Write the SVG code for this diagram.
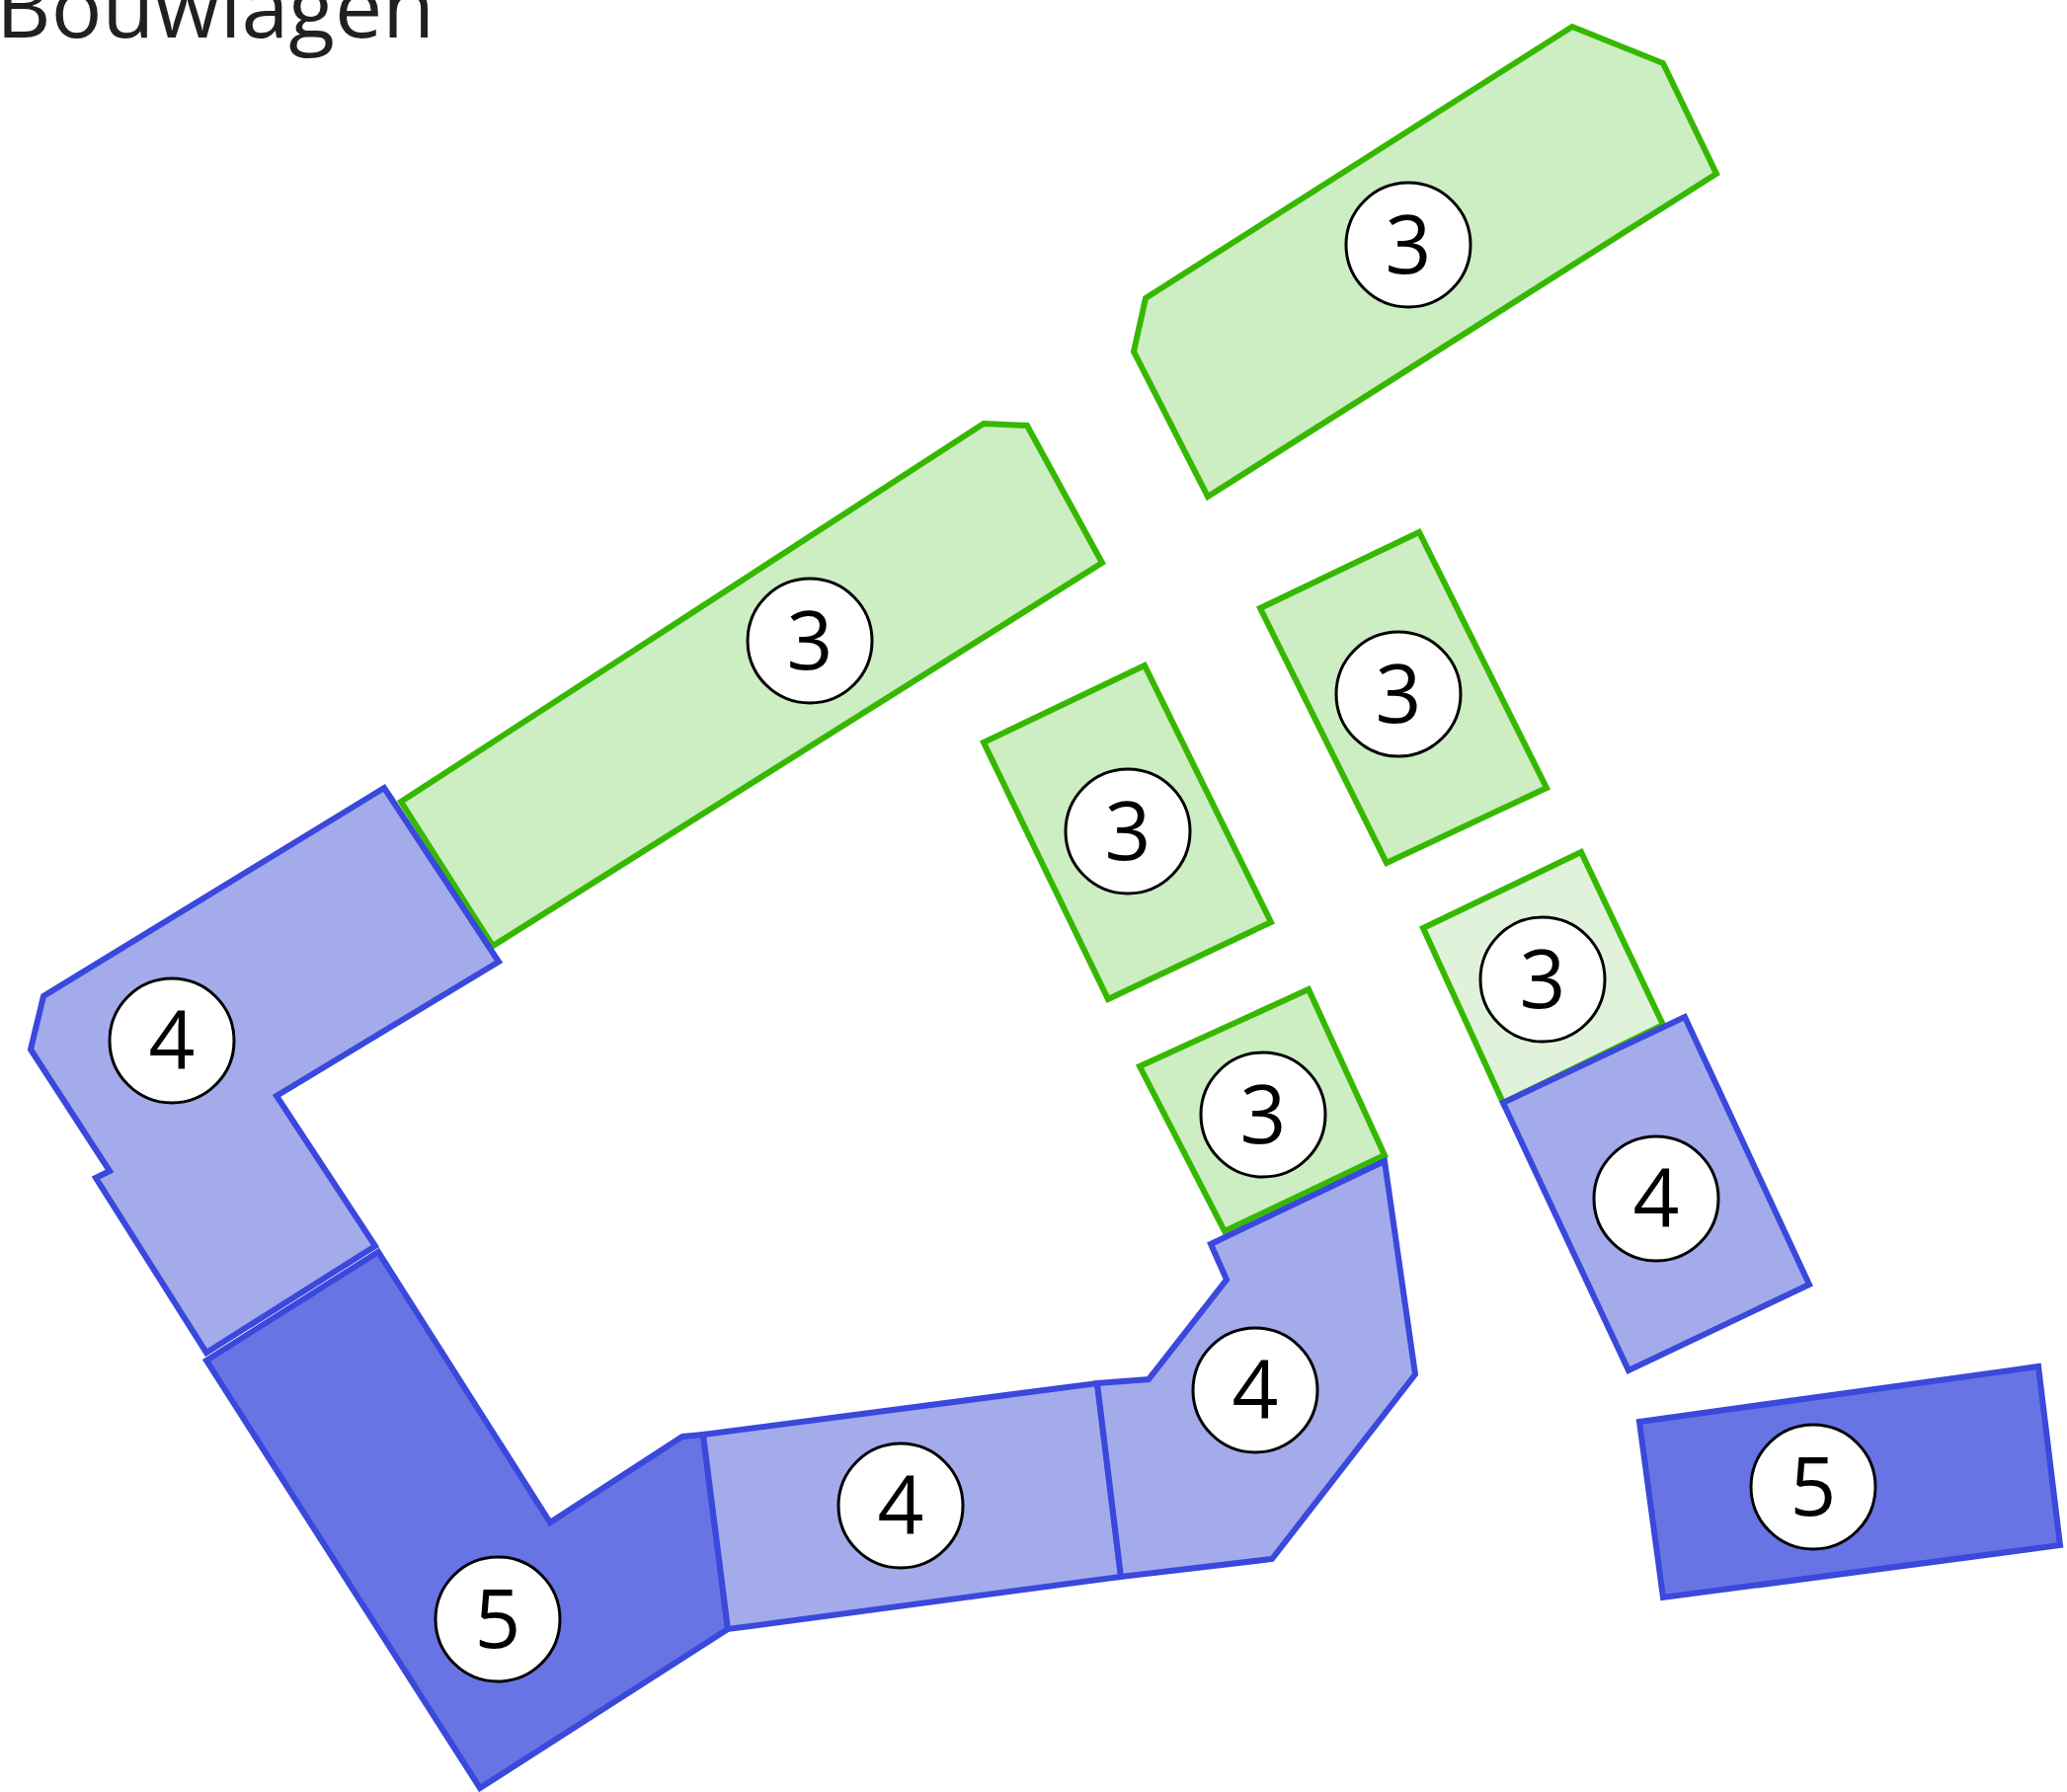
<svg xmlns="http://www.w3.org/2000/svg" width="2093" height="1815" viewBox="0 0 2093 1815">
<style>
.g{fill:#cdedc3;stroke:#37b800;stroke-width:6}
.gl{fill:#e0f3da;stroke:#37b800;stroke-width:6}
.b{fill:#a3abeb;stroke:#3a48dc;stroke-width:6}
.d{fill:#6874e3;stroke:#3a48dc;stroke-width:6}
.c{fill:#ffffff;stroke:#000000;stroke-width:3}
.t{font-family:"Open Sans","Liberation Sans",sans-serif;font-size:82px;fill:#000000;text-anchor:middle}
.title{font-family:"Open Sans","Liberation Sans",sans-serif;font-size:86px;fill:#231f20}
</style>
<rect width="2093" height="1815" fill="#ffffff"/>
<text class="title" x="440" y="38" text-anchor="end">Bouwlagen</text>

<g id="n3-top">
<polygon class="g" points="1160,302 1592,27 1684,64 1738,176 1223,503 1148,356"/>
<circle class="c" cx="1426" cy="248" r="63"/>
<text class="t" x="1426" y="277">3</text>
</g>

<g id="n3-long">
<polygon class="g" points="406,812 996,429 1040,431 1116,570 499,958"/>
<circle class="c" cx="820" cy="649" r="63"/>
<text class="t" x="820" y="678">3</text>
</g>

<g id="n4-left">
<polygon class="b" points="389,798 505,974 280,1110 380,1262 209,1370 97,1193 111,1186 31,1063 44,1009"/>
<circle class="c" cx="174" cy="1054" r="63"/>
<text class="t" x="174" y="1083">4</text>
</g>

<g id="n5-left">
<polygon class="d" points="209,1378 383,1268 557,1542 691,1455 712,1453 737,1650 486,1811"/>
<circle class="c" cx="504" cy="1640" r="63"/>
<text class="t" x="504" y="1669">5</text>
</g>

<g id="n4-mid">
<polygon class="b" points="712,1453 1111,1401 1135,1597 737,1650"/>
<circle class="c" cx="912" cy="1525" r="63"/>
<text class="t" x="912" y="1554">4</text>
</g>

<g id="n3-c">
<polygon class="g" points="996,752 1159,674 1287,934 1122,1012"/>
<circle class="c" cx="1142" cy="842" r="63"/>
<text class="t" x="1142" y="871">3</text>
</g>

<g id="n3-d">
<polygon class="g" points="1276,616 1437,539 1566,798 1404,874"/>
<circle class="c" cx="1416" cy="703" r="63"/>
<text class="t" x="1416" y="732">3</text>
</g>

<g id="n3-e">
<polygon class="g" points="1154,1080 1325,1002 1402,1170 1240,1247"/>
<circle class="c" cx="1279" cy="1129" r="63"/>
<text class="t" x="1279" y="1158">3</text>
</g>

<g id="n4-right-mid">
<polygon class="b" points="1111,1401 1163,1397 1242,1296 1226,1260 1402,1176 1433,1392 1288,1579 1135,1597"/>
<circle class="c" cx="1271" cy="1408" r="63"/>
<text class="t" x="1271" y="1437">4</text>
</g>

<g id="n3-f">
<polygon class="gl" points="1441,940 1601,863 1684,1038 1522,1117"/>
<circle class="c" cx="1562" cy="992" r="63"/>
<text class="t" x="1562" y="1021">3</text>
</g>

<g id="n4-right">
<polygon class="b" points="1522,1117 1706,1030 1832,1301 1649,1388"/>
<circle class="c" cx="1677" cy="1214" r="63"/>
<text class="t" x="1677" y="1243">4</text>
</g>

<g id="n5-right">
<polygon class="d" points="1660,1440 2064,1384 2086,1565 1684,1618"/>
<circle class="c" cx="1836" cy="1506" r="63"/>
<text class="t" x="1836" y="1535">5</text>
</g>

<g id="connectors"></g>
</svg>
